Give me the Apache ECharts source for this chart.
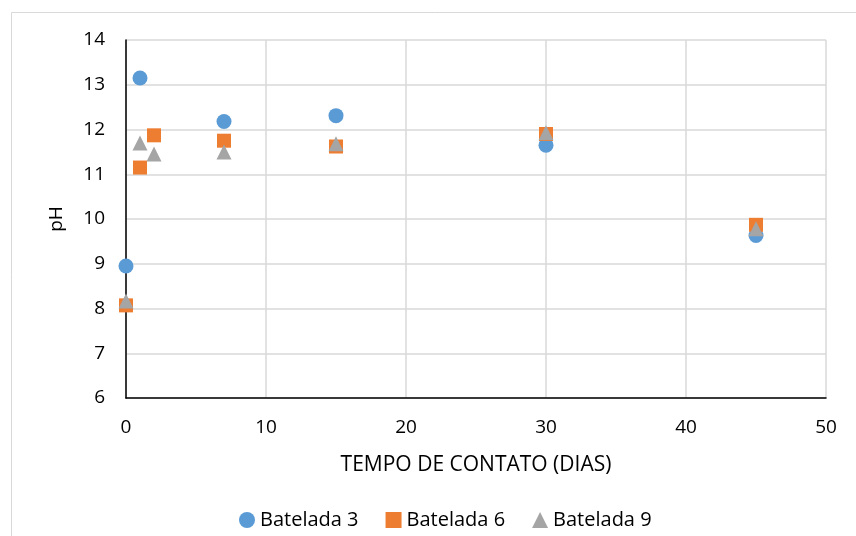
<!DOCTYPE html>
<html>
<head>
<meta charset="utf-8">
<script src="https://cdn.jsdelivr.net/npm/echarts@6/dist/echarts.min.js"></script>
<style>
html,body{margin:0;padding:0;background:#fff;}
#c{width:856px;height:536px;}
</style>
</head>
<body>
<div id="c"></div>
<script>
const days = [0, 1, 2, 7, 15, 30, 45];
const batelada3 = [[0, 8.95], [1, 13.15], [7, 12.18], [15, 12.31], [30, 11.65], [45, 9.63]];
const batelada6 = [[0, 8.07], [1, 11.15], [2, 11.87], [7, 11.75], [15, 11.62], [30, 11.9], [45, 9.87]];
const batelada9 = [[0, 8.17], [1, 11.7], [2, 11.45], [7, 11.5], [15, 11.68], [30, 11.93], [45, 9.78]];
const seriesNames = ['Batelada 3', 'Batelada 6', 'Batelada 9'];
const xName = 'TEMPO DE CONTATO (DIAS)';
const yName = 'pH';

const FONT = '"Open Sans", Lato, sans-serif';
const chart = echarts.init(document.getElementById('c'), null, {renderer: 'canvas'});
chart.setOption({
  animation: false,
  backgroundColor: '#fff',
  textStyle: {fontFamily: FONT},
  graphic: [{
    type: 'rect', left: 9, top: 10,
    shape: {width: 900, height: 600},
    style: {fill: 'none', stroke: '#d9d9d9', lineWidth: 1}, silent: true, z: -1
  }],
  grid: {left: 126, right: 30, top: 40, bottom: 138, containLabel: false},
  legend: {
    top: 505, left: 234,
    itemWidth: 16, itemHeight: 16, itemGap: 27,
    textStyle: {fontSize: 20, color: '#000', fontFamily: FONT},
    data: seriesNames
  },
  xAxis: {
    type: 'value', min: 0, max: 50, interval: 10,
    name: xName, nameLocation: 'middle', nameGap: 57,
    nameTextStyle: {fontSize: 21, color: '#000', fontFamily: FONT},
    axisLine: {onZero: false, lineStyle: {color: '#000', width: 1.5}},
    axisTick: {show: false},
    axisLabel: {fontSize: 19, color: '#000', margin: 20, fontFamily: FONT},
    splitLine: {show: true, lineStyle: {color: '#d9d9d9', width: 1.5}}
  },
  yAxis: {
    type: 'value', min: 6, max: 14, interval: 1,
    name: yName, nameLocation: 'middle', nameGap: 60, nameRotate: 90,
    nameTextStyle: {fontSize: 19, color: '#000', fontFamily: FONT},
    axisLine: {show: true, onZero: false, lineStyle: {color: '#000', width: 1.5}},
    axisTick: {show: false},
    axisLabel: {fontSize: 19, color: '#000', margin: 21, fontFamily: FONT},
    splitLine: {show: true, lineStyle: {color: '#d9d9d9', width: 1.5}}
  },
  series: [
    {name: seriesNames[0], type: 'scatter', data: batelada3, symbol: 'circle', symbolSize: 15,
     itemStyle: {color: '#5B9BD5', opacity: 1}},
    {name: seriesNames[1], type: 'scatter', data: batelada6, symbol: 'rect', symbolSize: 14,
     itemStyle: {color: '#ED7D31', opacity: 1}},
    {name: seriesNames[2], type: 'scatter', data: batelada9, symbol: 'triangle', symbolSize: 15,
     itemStyle: {color: '#A5A5A5', opacity: 1}}
  ]
});
</script>
</body>
</html>
